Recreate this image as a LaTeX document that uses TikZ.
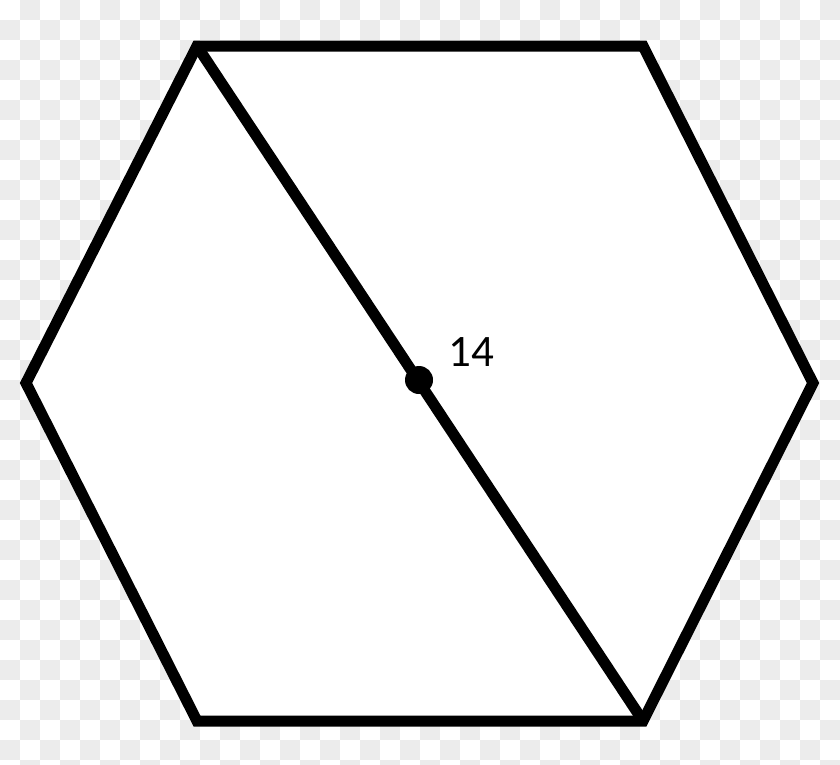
\documentclass[tikz,border=0pt]{standalone}
\usepackage{fontspec}
\setmainfont{Carlito}
\usepackage{tikz}
\usetikzlibrary{positioning}
\definecolor{checkgray}{HTML}{ECECEC}

\begin{document}
\begin{tikzpicture}
			[
				x=0.025cm, y=-0.025cm,
				edge/.style={draw=black, line width=0.275cm, line join=miter},
				dot/.style={circle, fill=black, inner sep=0pt, minimum size=0.7cm},
				label/.style={draw=none, fill=none, font=\fontsize{32}{38}\selectfont}
			]

			\useasboundingbox (0,0) rectangle (840,764);

			% background checks
			\begin{scope}
			\clip (0,0) rectangle (840,764);
			\fill[white] (0,0) rectangle (840,764);
			\foreach \i in {20,60,...,820}
			\foreach \j in {0,40,...,760}
			\fill[checkgray] (\i,\j) rectangle ++(20,20);
			\foreach \i in {0,40,...,800}
			\foreach \j in {20,60,...,760}
			\fill[checkgray] (\i,\j) rectangle ++(20,20);
			\end{scope}

			% corners
			\coordinate (c1) at ( 197,  46 );
			\coordinate (c2) at ( 643,  46 );
			\coordinate (c3) at ( 813, 383 );
			\coordinate (c4) at ( 643, 721 );
			\coordinate (c5) at ( 197, 721 );
			\coordinate (c6) at (  26, 383 );

			% hexagon
			\fill[white] (c1) -- (c2) -- (c3) -- (c4) -- (c5) -- (c6) -- cycle;
			\draw[edge] (c1) -- (c2) -- (c3) -- (c4) -- (c5) -- (c6) -- cycle;
			\draw[edge] (c1) -- (c4);

			% centre and label
			\node[dot] (mid) at ( 419, 380 ) {};
			\node[label] (len) at ( 471, 352 ) {14};

		\end{tikzpicture}
\end{document}
